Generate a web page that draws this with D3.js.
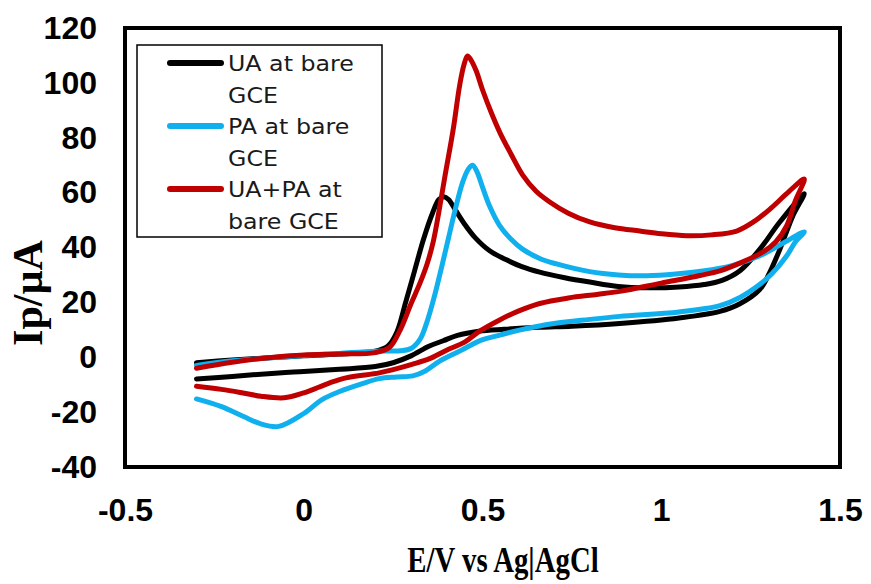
<!DOCTYPE html>
<html>
<head>
<meta charset="utf-8">
<script src="https://cdn.jsdelivr.net/npm/d3@7"></script>
<style>
  body { margin: 0; background: #fff; }
</style>
</head>
<body>
<svg id="chart"></svg>
<script>
const width = 871;
const height = 584;

// E (V) / Ip (uA) points, forward scan then reverse scan
const uaBare = [
    [-0.30, -2.0], [-0.20, -1.0], [-0.10, -0.2], [0.00, 0.5], [0.10, 1.2], [0.20, 2.2],
    [0.235, 4.0], [0.26, 9.0], [0.285, 20.0], [0.31, 31.5], [0.335, 43.0], [0.36, 52.5],
    [0.378, 57.5], [0.392, 58.5], [0.405, 57.5], [0.425, 53.5], [0.45, 48.5], [0.48, 43.5],
    [0.52, 38.8], [0.567, 35.5], [0.61, 33.0], [0.66, 31.0], [0.73, 29.0], [0.80, 27.4],
    [0.88, 25.8], [0.96, 25.3], [1.05, 25.6], [1.12, 26.5], [1.17, 28.0], [1.22, 31.5],
    [1.276, 39.4], [1.33, 49.0], [1.40, 59.6],
    [1.368, 51.5], [1.332, 39.4], [1.30, 30.0], [1.276, 24.8], [1.22, 19.5], [1.164, 16.7],
    [1.05, 14.3], [0.884, 12.3], [0.75, 11.3], [0.66, 10.9], [0.56, 10.2], [0.49, 9.5],
    [0.43, 8.0], [0.39, 6.0], [0.35, 4.0], [0.30, 0.5], [0.25, -2.0], [0.20, -3.4],
    [0.10, -4.4], [0.00, -5.2], [-0.07, -5.7], [-0.20, -7.0], [-0.30, -7.9]
];

const paBare = [
    [-0.30, -3.0], [-0.20, -1.3], [-0.10, -0.3], [0.00, 0.6], [0.10, 1.4], [0.20, 2.2],
    [0.27, 2.4], [0.30, 3.2], [0.325, 6.5], [0.345, 13.0], [0.365, 22.0], [0.385, 32.5],
    [0.405, 43.5], [0.425, 54.5], [0.445, 64.0], [0.46, 68.5], [0.472, 70.0], [0.485, 67.5],
    [0.50, 62.0], [0.52, 55.0], [0.548, 48.0], [0.58, 43.0], [0.612, 39.4], [0.66, 36.0],
    [0.707, 34.0], [0.80, 31.2], [0.88, 30.0], [0.96, 29.7], [1.04, 30.3], [1.116, 31.4],
    [1.20, 33.5], [1.276, 37.0], [1.34, 41.5], [1.40, 45.7],
    [1.375, 42.0], [1.351, 37.0], [1.31, 30.5], [1.276, 26.6], [1.22, 21.8], [1.164, 18.8],
    [1.05, 16.5], [0.884, 14.9], [0.80, 13.8], [0.70, 12.3], [0.60, 9.8], [0.54, 7.8],
    [0.49, 5.9], [0.44, 2.5], [0.38, -1.4], [0.34, -5.0], [0.305, -6.8], [0.26, -7.2],
    [0.211, -7.8], [0.164, -9.6], [0.10, -12.5], [0.05, -15.5], [0.00, -20.5], [-0.07, -25.2],
    [-0.12, -24.3], [-0.17, -21.5], [-0.23, -18.0], [-0.30, -15.2]
];

const uaPaBare = [
    [-0.30, -4.0], [-0.20, -1.8], [-0.07, 0.2], [0.00, 0.8], [0.10, 1.2], [0.20, 1.7],
    [0.24, 3.6], [0.27, 10.0], [0.30, 19.5], [0.325, 27.0], [0.345, 34.0], [0.362, 42.0],
    [0.378, 53.0], [0.395, 66.0], [0.418, 83.0], [0.436, 99.0], [0.448, 106.5], [0.458, 109.8],
    [0.467, 108.5], [0.482, 104.5], [0.50, 97.5], [0.525, 89.0], [0.55, 81.5], [0.58, 74.0],
    [0.612, 66.5], [0.65, 60.5], [0.688, 56.6], [0.74, 52.5], [0.80, 49.3], [0.87, 47.2],
    [0.94, 46.0], [1.00, 45.0], [1.071, 44.3], [1.14, 44.6], [1.211, 46.0], [1.26, 49.5],
    [1.304, 54.0], [1.35, 59.5], [1.40, 65.0],
    [1.375, 57.0], [1.351, 48.0], [1.32, 42.0], [1.284, 38.3], [1.22, 34.3], [1.164, 31.5],
    [1.108, 29.8], [1.00, 27.0], [0.884, 24.0], [0.82, 22.9], [0.74, 21.6], [0.66, 19.6],
    [0.60, 16.8], [0.548, 13.6], [0.492, 9.5], [0.45, 5.5], [0.398, 2.5], [0.352, -0.5],
    [0.305, -2.5], [0.25, -4.5], [0.211, -5.7], [0.118, -7.5], [0.071, -9.4], [0.00, -13.0],
    [-0.055, -14.8], [-0.12, -14.2], [-0.17, -13.0], [-0.23, -11.7], [-0.30, -10.6]
];

const seriesNames = [["UA at bare", "GCE"], ["PA at bare", "GCE"], ["UA+PA at", "bare GCE"]];
const seriesColors = ["#000000", "#10b0ee", "#c00000"];
const seriesData = [uaBare, paBare, uaPaBare];

const xTicks = [-0.5, 0, 0.5, 1, 1.5];
const yTicks = [-40, -20, 0, 20, 40, 60, 80, 100, 120];

const svg = d3.select("#chart")
    .attr("width", width)
    .attr("height", height)
    .style("background", "#fff");

const x = d3.scaleLinear().domain([-0.5, 1.5]).range([125, 840]);
const y = d3.scaleLinear().domain([-40, 120]).range([467, 28]);

// Axes: labels only, no tick marks, plain hyphen for negatives
const xAxis = svg.append("g")
    .attr("transform", `translate(0,${y(-40)})`)
    .call(d3.axisBottom(x).tickValues(xTicks).tickSize(0).tickPadding(31).tickFormat(d => String(d)));

const yAxis = svg.append("g")
    .attr("transform", `translate(${x(-0.5)},0)`)
    .call(d3.axisLeft(y).tickValues(yTicks).tickSize(0).tickPadding(28).tickFormat(d => String(d)));

[xAxis, yAxis].forEach(a => {
    a.select(".domain").remove();
    a.selectAll("text")
        .attr("fill", "#000")
        .style("font-family", "'Liberation Sans', Arial, sans-serif")
        .style("font-weight", "bold")
        .style("font-size", "32px");
});

// Curves
const line = d3.line()
    .x(d => x(d[0]))
    .y(d => y(d[1]))
    .curve(d3.curveCatmullRom.alpha(0.5));

svg.selectAll(".cv")
    .data(seriesData)
    .join("path")
    .attr("class", "cv")
    .attr("d", line)
    .attr("fill", "none")
    .attr("stroke", (d, i) => seriesColors[i])
    .attr("stroke-width", 5)
    .attr("stroke-linecap", "round")
    .attr("stroke-linejoin", "round");

// Plot frame
svg.append("rect")
    .attr("x", x(-0.5))
    .attr("y", y(120))
    .attr("width", x(1.5) - x(-0.5))
    .attr("height", y(-40) - y(120))
    .attr("fill", "none")
    .attr("stroke", "#000")
    .attr("stroke-width", 4);

// Legend
const legend = svg.append("g");
legend.append("rect")
    .attr("x", 137)
    .attr("y", 45)
    .attr("width", 245)
    .attr("height", 192)
    .attr("fill", "#fff")
    .attr("stroke", "#000")
    .attr("stroke-width", 1.5);

seriesNames.forEach((lines, i) => {
    const ly = 63 + i * 63;
    legend.append("line")
        .attr("x1", 170).attr("x2", 221)
        .attr("y1", ly).attr("y2", ly)
        .attr("stroke", seriesColors[i])
        .attr("stroke-width", 6)
        .attr("stroke-linecap", "round");
    lines.forEach((t, j) => {
        legend.append("text")
            .attr("transform", `translate(228,${ly + 7.5 + j * 32}) scale(1.13,1)`)
            .attr("fill", "#1a1a1a")
            .style("font-family", "'DejaVu Sans', Verdana, sans-serif")
            .style("font-size", "21px")
            .text(t);
    });
});

// Axis titles
svg.append("text")
    .attr("transform", "translate(503,572) scale(0.8,1)")
    .attr("text-anchor", "middle")
    .style("font-family", "'Liberation Serif', 'Times New Roman', serif")
    .style("font-weight", "bold")
    .style("font-size", "36px")
    .text("E/V vs Ag|AgCl");

svg.append("text")
    .attr("transform", "translate(42,293) rotate(-90)")
    .attr("text-anchor", "middle")
    .style("font-family", "'Liberation Serif', 'Times New Roman', serif")
    .style("font-weight", "bold")
    .style("font-size", "42px")
    .text("Ip/µA");
</script>
</body>
</html>
